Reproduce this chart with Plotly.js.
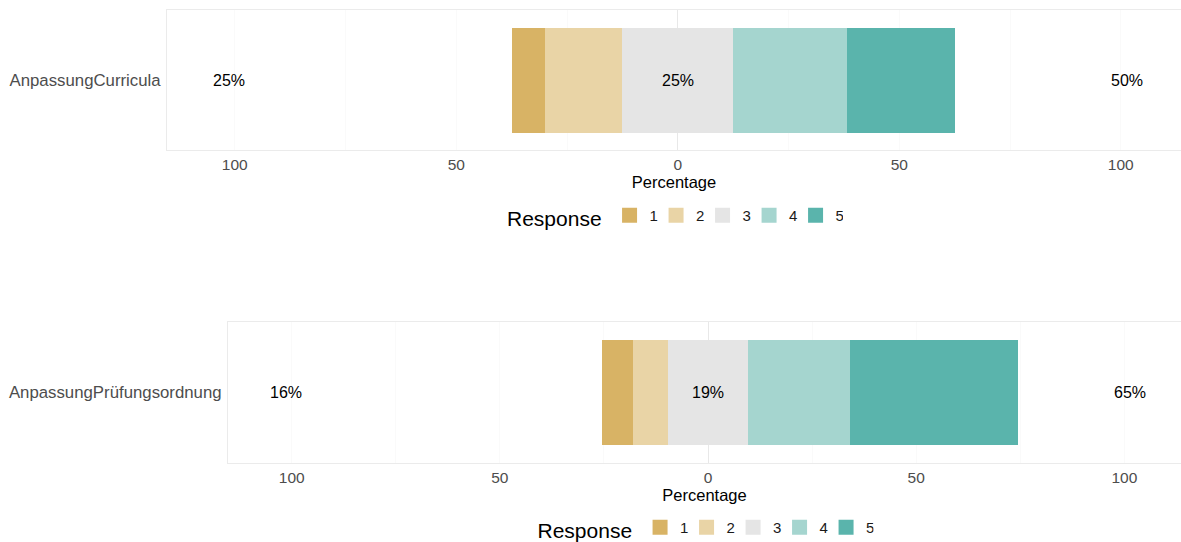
<!DOCTYPE html>
<html>
<head>
<meta charset="utf-8">
<script src="https://cdn.plot.ly/plotly-3.0.1.min.js"></script>
<style>html,body{margin:0;padding:0;background:#fff;overflow:hidden;}#chart{width:1181px;height:570px;}</style>
</head>
<body>
<div id="chart"></div>
<script>
// ---- data ----
const categories = ['AnpassungCurricula', 'AnpassungPrüfungsordnung'];
const responses = ['1', '2', '3', '4', '5'];
const resp1 = [7.6, 7.4];
const resp2 = [17.4, 8.6];
const resp3 = [25.0, 19.0];
const resp4 = [25.8, 24.5];
const resp5 = [24.2, 40.5];
const tickValues = [-100, -50, 0, 50, 100];

// ---- styles ----
const colors = {'1': '#d8b365', '2': '#e9d4a6', '3': '#e5e5e5', '4': '#a5d5cf', '5': '#5ab4ac'};
const FONT = 'Liberation Sans, Arial, sans-serif';
const labelOffset = 101.4;

// figure is drawn slightly taller than the 542px window so the lower legend
// stays inside the paper (no automatic margin push); the overflow is hidden
const W = 1181, H = 570;
const panels = [
  {x0: 167, y0: 10, y1: 150, legendY: 218},
  {x0: 228, y0: 322, y1: 463, legendY: 530}
];

const data = [];
const annotations = [];
const layout = {
  width: W, height: H,
  margin: {l: 0, r: 0, t: 0, b: 0},
  paper_bgcolor: '#fff', plot_bgcolor: '#fff',
  barmode: 'relative',
  bargap: 0,
  showlegend: true,
  font: {family: FONT, color: '#4d4d4d', size: 14},
  annotations: annotations
};

categories.forEach((cat, i) => {
  const p = panels[i];
  const xa = i === 0 ? 'x' : 'x2';
  const ya = i === 0 ? 'y' : 'y2';
  const lg = i === 0 ? 'legend' : 'legend2';
  const vals = {'1': resp1[i], '2': resp2[i], '3': resp3[i], '4': resp4[i], '5': resp5[i]};
  const mk = (resp, x) => ({
    type: 'bar', orientation: 'h', y: [cat], x: [x], width: 0.9,
    name: resp, legendgroup: 'g' + i + resp, showlegend: false,
    xaxis: xa, yaxis: ya, hoverinfo: 'skip',
    marker: {color: colors[resp], line: {width: 0}}
  });
  // stacking order: neutral halves first, then outward
  data.push(mk('3', -vals['3'] / 2));
  data.push(mk('3', vals['3'] / 2));
  data.push(mk('2', -vals['2']));
  data.push(mk('4', vals['4']));
  data.push(mk('1', -vals['1']));
  data.push(mk('5', vals['5']));
  // legend entries (square keys)
  responses.forEach(r => {
    data.push({
      type: 'scatter', mode: 'markers', x: [null], y: [null],
      xaxis: xa, yaxis: ya, name: r, legendgroup: 'g' + i + r,
      legend: lg, showlegend: true, hoverinfo: 'skip',
      marker: {symbol: 'square', size: 15, color: colors[r], line: {width: 0}}
    });
  });

  const low = vals['1'] + vals['2'];
  const high = vals['4'] + vals['5'];
  [[-labelOffset, low], [0, vals['3']], [labelOffset, high]].forEach(([x, v]) => {
    annotations.push({
      xref: xa, yref: ya, x: x, y: cat, text: Math.round(v) + '%',
      showarrow: false, font: {family: FONT, size: 16, color: '#000'},
      xanchor: 'center', yanchor: 'middle'
    });
  });

  const xName = i === 0 ? 'xaxis' : 'xaxis2';
  const yName = i === 0 ? 'yaxis' : 'yaxis2';
  layout[xName] = {
    domain: [p.x0 / W, 1],
    anchor: ya,
    range: [-115.3, 113.6],
    tickvals: tickValues,
    ticktext: tickValues.map(v => String(Math.abs(v))),
    ticks: '',
    tickfont: {family: FONT, size: 15.5, color: '#4d4d4d'},
    showgrid: true, gridcolor: '#fafafa', gridwidth: 1,
    minor: {dtick: 25, tick0: 0, showgrid: true, gridcolor: '#fafafa', gridwidth: 1},
    zeroline: true, zerolinecolor: '#e8e8e8', zerolinewidth: 1,
    showline: true, linecolor: '#ebebeb', linewidth: 1, mirror: true,
    fixedrange: true,
    title: {text: 'Percentage', font: {family: FONT, size: 16.5, color: '#000'}, standoff: 4}
  };
  layout[yName] = {
    domain: [1 - p.y1 / H, 1 - p.y0 / H],
    anchor: xa,
    type: 'category',
    range: [-0.6, 0.6],
    ticks: '',
    ticklabelstandoff: 2,
    tickfont: {family: FONT, size: 16.8, color: '#4d4d4d'},
    showgrid: false, zeroline: false,
    showline: true, linecolor: '#ebebeb', linewidth: 1, mirror: true,
    fixedrange: true
  };
  layout[lg] = {
    orientation: 'h',
    xref: 'paper', yref: 'paper',
    x: ((p.x0 + W) / 2) / W, xanchor: 'center',
    y: 1 - p.legendY / H, yanchor: 'middle',
    title: {text: 'Response', side: 'left', font: {family: FONT, size: 21, color: '#000'}},
    font: {family: FONT, size: 15, color: '#1a1a1a'},
    entrywidth: 1.5, entrywidthmode: 'pixels',
    traceorder: 'normal',
    itemclick: false, itemdoubleclick: false,
    bgcolor: 'rgba(0,0,0,0)'
  };
});

Plotly.newPlot('chart', data, layout, {displayModeBar: false, staticPlot: true});
</script>
</body>
</html>
